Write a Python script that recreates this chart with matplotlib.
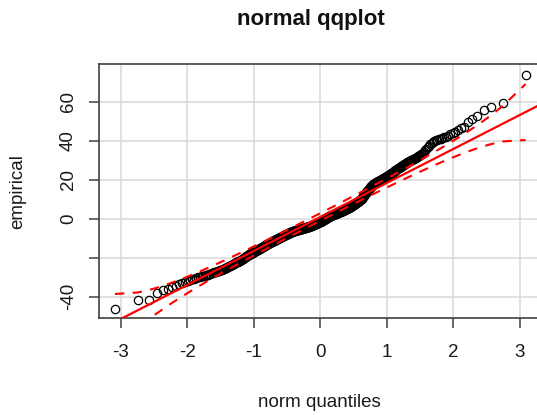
import numpy as np
import matplotlib
matplotlib.use("Agg")
import matplotlib.pyplot as plt
from statistics import NormalDist

# Sorted sample values (500 observations)
empirical = [
    -46.3, -41.9, -41.7, -38.1, -36.6, -35.8, -35.1, -34.3, -33.4, -32.8,
    -32.3, -31.9, -31.5, -31.1, -30.8, -30.5, -30.1, -29.9, -29.6, -29.3,
    -29.1, -28.9, -28.6, -28.4, -28.2, -28.0, -27.7, -27.5, -27.3, -27.1,
    -26.9, -26.7, -26.5, -26.3, -26.1, -25.9, -25.6, -25.4, -25.2, -25.0,
    -24.8, -24.6, -24.3, -24.1, -23.9, -23.7, -23.5, -23.3, -23.0, -22.8,
    -22.6, -22.4, -22.2, -22.0, -21.8, -21.6, -21.4, -21.2, -21.0, -20.8,
    -20.6, -20.4, -20.1, -19.9, -19.7, -19.5, -19.3, -19.0, -18.8, -18.6,
    -18.4, -18.3, -18.1, -17.9, -17.8, -17.6, -17.5, -17.3, -17.2, -17.0,
    -16.8, -16.7, -16.5, -16.4, -16.2, -16.1, -15.9, -15.8, -15.6, -15.5,
    -15.3, -15.2, -15.0, -14.9, -14.7, -14.6, -14.4, -14.3, -14.1, -14.0,
    -13.8, -13.7, -13.5, -13.4, -13.3, -13.1, -13.0, -12.9, -12.7, -12.6,
    -12.5, -12.4, -12.2, -12.1, -12.0, -11.9, -11.8, -11.6, -11.5, -11.4,
    -11.3, -11.2, -11.1, -11.0, -10.9, -10.8, -10.7, -10.6, -10.4, -10.3,
    -10.2, -10.1, -10.0, -9.9, -9.8, -9.7, -9.6, -9.5, -9.3, -9.2,
    -9.1, -9.0, -8.9, -8.8, -8.7, -8.6, -8.5, -8.4, -8.3, -8.2,
    -8.1, -8.0, -7.9, -7.8, -7.7, -7.7, -7.6, -7.5, -7.4, -7.3,
    -7.2, -7.1, -7.0, -7.0, -6.9, -6.8, -6.7, -6.7, -6.6, -6.5,
    -6.4, -6.4, -6.3, -6.2, -6.2, -6.1, -6.1, -6.0, -5.9, -5.9,
    -5.8, -5.8, -5.7, -5.7, -5.6, -5.5, -5.5, -5.4, -5.4, -5.3,
    -5.3, -5.2, -5.2, -5.1, -5.1, -5.0, -5.0, -4.9, -4.9, -4.8,
    -4.8, -4.7, -4.7, -4.6, -4.6, -4.5, -4.5, -4.4, -4.4, -4.3,
    -4.3, -4.2, -4.2, -4.1, -4.1, -4.0, -4.0, -3.9, -3.9, -3.8,
    -3.7, -3.7, -3.6, -3.5, -3.5, -3.4, -3.3, -3.3, -3.2, -3.1,
    -3.0, -3.0, -2.9, -2.8, -2.8, -2.7, -2.6, -2.5, -2.5, -2.4,
    -2.3, -2.2, -2.1, -2.1, -2.0, -1.9, -1.8, -1.7, -1.7, -1.6,
    -1.5, -1.4, -1.3, -1.2, -1.1, -1.0, -0.9, -0.8, -0.7, -0.6,
    -0.5, -0.4, -0.3, -0.2, -0.1, 0.0, 0.1, 0.2, 0.4, 0.5,
    0.6, 0.7, 0.8, 0.9, 1.0, 1.0, 1.1, 1.2, 1.3, 1.4,
    1.5, 1.6, 1.6, 1.7, 1.8, 1.9, 2.0, 2.0, 2.1, 2.2,
    2.3, 2.3, 2.4, 2.5, 2.6, 2.6, 2.7, 2.8, 2.8, 2.9,
    3.0, 3.0, 3.1, 3.2, 3.3, 3.3, 3.4, 3.5, 3.5, 3.6,
    3.7, 3.8, 3.8, 3.9, 4.0, 4.1, 4.2, 4.2, 4.3, 4.4,
    4.5, 4.6, 4.7, 4.8, 4.8, 4.9, 5.0, 5.1, 5.2, 5.3,
    5.4, 5.5, 5.6, 5.7, 5.8, 5.9, 6.0, 6.1, 6.3, 6.4,
    6.5, 6.6, 6.8, 6.9, 7.0, 7.1, 7.3, 7.4, 7.6, 7.7,
    7.8, 8.0, 8.1, 8.2, 8.4, 8.5, 8.6, 8.7, 8.9, 9.0,
    9.2, 9.4, 9.6, 9.8, 10.0, 10.2, 10.4, 10.7, 10.9, 11.2,
    11.5, 11.8, 12.0, 12.3, 12.6, 12.9, 13.2, 13.5, 13.7, 14.0,
    14.3, 14.6, 14.9, 15.2, 15.4, 15.7, 16.0, 16.2, 16.5, 16.8,
    17.0, 17.2, 17.4, 17.6, 17.8, 18.0, 18.1, 18.3, 18.4, 18.6,
    18.7, 18.9, 19.0, 19.2, 19.3, 19.4, 19.6, 19.7, 19.9, 20.0,
    20.1, 20.3, 20.4, 20.6, 20.7, 20.9, 21.0, 21.2, 21.3, 21.5,
    21.7, 21.9, 22.1, 22.3, 22.5, 22.7, 22.9, 23.1, 23.3, 23.5,
    23.7, 24.0, 24.2, 24.4, 24.7, 24.9, 25.1, 25.3, 25.6, 25.8,
    26.0, 26.3, 26.5, 26.8, 27.0, 27.2, 27.5, 27.7, 28.0, 28.2,
    28.4, 28.7, 28.9, 29.1, 29.4, 29.6, 29.9, 30.1, 30.4, 30.6,
    30.9, 31.2, 31.4, 31.7, 32.0, 32.3, 32.6, 33.0, 33.4, 33.8,
    34.5, 35.3, 36.0, 36.8, 37.5, 38.2, 38.8, 39.3, 39.8, 40.2,
    40.5, 40.8, 41.1, 41.4, 41.8, 42.2, 42.7, 43.3, 43.9, 44.5,
    45.3, 46.5, 47.3, 49.5, 51.0, 52.6, 55.9, 57.2, 59.3, 74.0,
]

x_ticks = [-3, -2, -1, 0, 1, 2, 3]
y_ticks = [-40, -20, 0, 20, 40, 60]
y_tick_labels = ["-40", "", "0", "20", "40", "60"]

plt.rcParams["font.family"] = ["Liberation Sans", "DejaVu Sans"]
plt.rcParams["axes.unicode_minus"] = False

y = np.sort(np.array(empirical))
n = len(y)
norm = NormalDist()

# theoretical quantiles at ppoints(n)
p = (np.arange(1, n + 1) - 0.5) / n
z = np.array([norm.inv_cdf(v) for v in p])

# reference line through the quartiles
q25, q75 = np.quantile(y, [0.25, 0.75])
z25, z75 = norm.inv_cdf(0.25), norm.inv_cdf(0.75)
b = (q75 - q25) / (z75 - z25)
a = q25 - b * z25

# pointwise 95% confidence envelope
dens = np.array([norm.pdf(v) for v in z])
se = b / dens * np.sqrt(p * (1 - p) / n)
fit = a + b * z
crit = norm.inv_cdf(0.975)
upper = fit + crit * se
lower = fit - crit * se

fig = plt.figure(figsize=(5.37, 4.15), dpi=100)
ax = fig.add_axes([0.1844, 0.2337, 0.824, 0.6121])

ax.set_xlim(-3.33, 3.33)
ax.set_ylim(-50.9, 79.4)
ax.set_xticks(x_ticks)
ax.set_yticks(y_ticks)
ax.set_yticklabels(y_tick_labels, rotation=90, va="center")

ax.grid(True, color="#d9d9d9", lw=1.1)
ax.set_axisbelow(True)

ax.plot(z, y, "o", mfc="none", mec="black", ms=6, mew=0.9, zorder=2)
ax.axline((0, a), slope=b, color="red", lw=1.6, zorder=3)
ax.plot(z, upper, color="red", lw=1.5, ls=(0, (4.5, 4)), zorder=3)
ax.plot(z, lower, color="red", lw=1.5, ls=(0, (4.5, 4)), zorder=3)

for s in ax.spines.values():
    s.set_color("#404040")
    s.set_linewidth(1.2)
ax.tick_params(direction="out", length=7, width=1.1, color="#404040",
               labelsize=13.5, labelcolor="#1a1a1a")
ax.tick_params(axis="x", pad=12)
ax.tick_params(axis="y", pad=9)

fig.text(311 / 537, 1 - 20 / 415, "normal qqplot", ha="center", va="center",
         fontsize=16, fontweight="bold", color="#111111")
fig.text(319 / 537, 1 - 402 / 415, "norm quantiles", ha="center", va="center",
         fontsize=13.5, color="#1a1a1a")
fig.text(18 / 537, 1 - 192 / 415, "empirical", ha="center", va="center",
         rotation=90, fontsize=13.5, color="#1a1a1a")

fig.savefig("out.png", dpi=100)
